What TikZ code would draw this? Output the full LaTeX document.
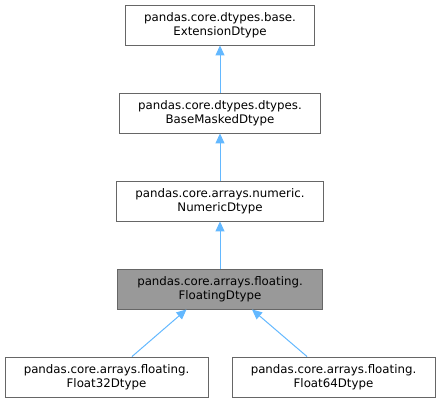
\documentclass[tikz,border=0pt]{standalone}
\usepackage{fontspec}
\setmainfont{DejaVu Sans}
\usepackage{tikz}
\usetikzlibrary{arrows.meta}

\definecolor{edgeblue}{RGB}{99,184,255}
\definecolor{boxgray}{RGB}{102,102,102}
\definecolor{curfill}{RGB}{153,153,153}

\begin{document}
\begin{tikzpicture}[x=1pt,y=-1pt]
  \tikzstyle{cls} = [rectangle, minimum height=40pt, inner sep=0pt, align=center, draw=boxgray, line width=0.9pt, fill=white, font=\fontsize{11.8}{13.5}\selectfont]
  \tikzstyle{inh} = [draw=edgeblue, line width=1pt, {Triangle[length=10pt,width=9pt,fill=edgeblue]}-]
  \useasboundingbox (0,0) rectangle (440,403);

  \node (Ext) [cls, minimum width=189pt] at (220,25) {pandas.core.dtypes.base.\\ExtensionDtype};
  \node (Masked) [cls, minimum width=201pt] at (220,113) {pandas.core.dtypes.dtypes.\\BaseMaskedDtype};
  \node (Num) [cls, minimum width=207pt] at (220,201) {pandas.core.arrays.numeric.\\NumericDtype};
  \node (Flt) [cls, minimum width=205pt, fill=curfill] at (220,289) {pandas.core.arrays.floating.\\FloatingDtype};
  \node (F32) [cls, minimum width=203pt] at (106.5,377) {pandas.core.arrays.floating.\\Float32Dtype};
  \node (F64) [cls, minimum width=203pt] at (333.5,377) {pandas.core.arrays.floating.\\Float64Dtype};

  \draw[inh] (Ext) -- (Masked);
  \draw[inh] (Masked) -- (Num);
  \draw[inh] (Num) -- (Flt);
  \draw[inh] ([xshift=-33.5pt]Flt.south) -- ([xshift=25.5pt]F32.north);
  \draw[inh] ([xshift=32pt]Flt.south) -- ([xshift=-26.5pt]F64.north);
\end{tikzpicture}
\end{document}
